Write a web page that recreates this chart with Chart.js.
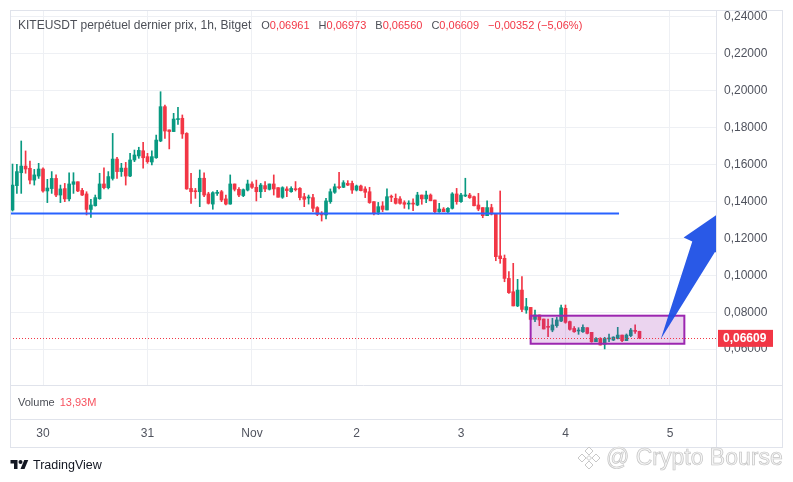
<!DOCTYPE html>
<html>
<head>
<meta charset="utf-8">
<script src="https://cdn.jsdelivr.net/npm/chart.js@4.4.1/dist/chart.umd.min.js"></script>
<style>
  html, body { margin: 0; padding: 0; background: #fff; }
  #wrap { position: relative; width: 793px; height: 482px; overflow: hidden; font-family: "Liberation Sans", Arial, sans-serif; }
  #c { position: absolute; left: 0; top: 0; }
  .ln { position: absolute; background: #e0e3eb; }
  #title { position: absolute; left: 18px; top: 17px; font-size: 12px; line-height: 16px; color: #4c4f57; white-space: nowrap; }
  #title .v { font-size: 11px; }
  #title .r { color: #f23645; }
  #title .sp { margin-left: 9px; }
  #title .first { margin-left: 10px; }
  #vol { position: absolute; left: 18px; top: 395px; font-size: 11px; line-height: 14px; color: #4c4f57; }
  #vol .r { color: #f7525f; margin-left: 5px; }
  #tv { position: absolute; left: 10px; top: 458px; height: 14px; display: flex; align-items: center; font-size: 12.5px; color: #131722; }
  #tv svg { margin-right: 4px; }
  #wm { position: absolute; left: 576px; top: 444px; display: flex; align-items: center; font-size: 23px; color: #f6f6f6; -webkit-text-stroke: 0.7px #c4c4c4; white-space: nowrap; }
  #wm svg { margin-right: 4px; }
</style>
</head>
<body>
<div id="wrap">
  <canvas id="c" width="793" height="482"></canvas>
  <div class="ln" style="left:10px;top:10px;width:773px;height:1px"></div>
  <div class="ln" style="left:10px;top:10px;width:1px;height:437px"></div>
  <div class="ln" style="left:782px;top:10px;width:1px;height:437px"></div>
  <div class="ln" style="left:10px;top:447px;width:773px;height:1px"></div>
  <div class="ln" style="left:716px;top:385px;width:67px;height:1px"></div>
  <div class="ln" style="left:10px;top:419px;width:773px;height:1px"></div>
  <div class="ln" style="left:716px;top:385px;width:1px;height:62px"></div>
  <div id="title"><span>KITEUSDT perpétuel dernier prix, 1h, Bitget</span><span class="v first">O</span><span class="v r">0,06961</span><span class="v sp">H</span><span class="v r">0,06973</span><span class="v sp">B</span><span class="v r">0,06560</span><span class="v sp">C</span><span class="v r">0,06609</span><span class="v r sp">−0,00352 (−5,06%)</span></div>
  <div id="vol">Volume<span class="r">13,93M</span></div>
  <div id="tv"><svg width="19" height="14" viewBox="0 0 36 28"><path d="M14 22H7V11H0V4h14v18z" fill="#131722"/><circle cx="20" cy="8" r="4" fill="#131722"/><path d="M28 22h-8l7.5-18h8L28 22z" fill="#131722"/></svg>TradingView</div>
  <div id="wm"><svg width="26" height="26" viewBox="0 0 26 26" fill="none" stroke="#c8c8c8" stroke-width="1"><path d="M13 2l4 4-4 4-4-4z"/><path d="M13 16l4 4-4 4-4-4z"/><path d="M6 9l4 4-4 4-4-4z"/><path d="M20 9l4 4-4 4-4-4z"/><path d="M13 10.5l2.5 2.5-2.5 2.5-2.5-2.5z"/></svg>@ Crypto Bourse</div>
</div>
<script>
// hourly candles, first one is 7 hours before Oct 30 00:00
const firstHour = -7;
const opens = [
  0.1354, 0.1486, 0.1556, 0.1592, 0.1580, 0.1516, 0.1538, 0.1576, 0.1457, 0.1470,
  0.1525, 0.1435, 0.1470, 0.1414, 0.1493, 0.1507, 0.1460, 0.1441, 0.1357, 0.1377,
  0.1415, 0.1495, 0.1475, 0.1525, 0.1630, 0.1562, 0.1581, 0.1538, 0.1625, 0.1647,
  0.1675, 0.1643, 0.1614, 0.1637, 0.1728, 0.1914, 0.1788, 0.1779, 0.1844, 0.1851,
  0.1769, 0.1471, 0.1457, 0.1453, 0.1526, 0.1441, 0.1386, 0.1444, 0.1453, 0.1414,
  0.1386, 0.1495, 0.1466, 0.1432, 0.1462, 0.1495, 0.1477, 0.1453, 0.1486, 0.1466,
  0.1495, 0.1475, 0.1423, 0.1468, 0.1453, 0.1468, 0.1471, 0.1426, 0.1419, 0.1421,
  0.1367, 0.1334, 0.1327, 0.1399, 0.1450, 0.1480, 0.1477, 0.1498, 0.1498, 0.1462,
  0.1484, 0.1468, 0.1453, 0.1399, 0.1341, 0.1376, 0.1354, 0.1426, 0.1417, 0.1414,
  0.1394, 0.1386, 0.1390, 0.1381, 0.1435, 0.1414, 0.1435, 0.1408, 0.1345, 0.1359,
  0.1345, 0.1363, 0.1441, 0.1399, 0.1430, 0.1435, 0.1426, 0.1381, 0.1367, 0.1323,
  0.1367, 0.1336, 0.1105, 0.1092, 0.0983, 0.0911, 0.0834, 0.0920, 0.0812, 0.0826,
  0.0761, 0.0785, 0.0763, 0.0722, 0.0703, 0.0727, 0.0752, 0.0821, 0.0749, 0.0712,
  0.0698, 0.0694, 0.0716, 0.0691, 0.0640, 0.0655, 0.0626, 0.0655, 0.0649, 0.0658,
  0.0676, 0.0646, 0.0673, 0.0700, 0.06961
];
const highs = [
  0.1603, 0.1601, 0.1728, 0.1674, 0.1619, 0.1574, 0.1607, 0.1583, 0.1520, 0.1562,
  0.1544, 0.1489, 0.1498, 0.1556, 0.1556, 0.1507, 0.1471, 0.1453, 0.1412, 0.1435,
  0.1553, 0.1583, 0.1562, 0.1769, 0.1639, 0.1607, 0.1612, 0.1661, 0.1679, 0.1694,
  0.1721, 0.1661, 0.1675, 0.1760, 0.1995, 0.1923, 0.1788, 0.1878, 0.1910, 0.1869,
  0.1773, 0.1553, 0.1471, 0.1571, 0.1556, 0.1450, 0.1453, 0.1460, 0.1460, 0.1435,
  0.1544, 0.1495, 0.1475, 0.1468, 0.1516, 0.1507, 0.1516, 0.1498, 0.1508, 0.1495,
  0.1544, 0.1475, 0.1480, 0.1480, 0.1480, 0.1508, 0.1475, 0.1444, 0.1435, 0.1439,
  0.1372, 0.1345, 0.1417, 0.1468, 0.1495, 0.1558, 0.1513, 0.1513, 0.1511, 0.1489,
  0.1489, 0.1480, 0.1477, 0.1399, 0.1395, 0.1399, 0.1468, 0.1435, 0.1441, 0.1426,
  0.1404, 0.1404, 0.1414, 0.1450, 0.1435, 0.1457, 0.1441, 0.1408, 0.1390, 0.1367,
  0.1367, 0.1448, 0.1471, 0.1444, 0.1526, 0.1444, 0.1430, 0.1444, 0.1367, 0.1403,
  0.1385, 0.1336, 0.1457, 0.1110, 0.1020, 0.1065, 0.0978, 0.0993, 0.0875, 0.0826,
  0.0812, 0.0785, 0.0763, 0.0763, 0.0767, 0.0772, 0.0839, 0.0839, 0.0752, 0.0722,
  0.0716, 0.0731, 0.0716, 0.0691, 0.0662, 0.0662, 0.0664, 0.0682, 0.0667, 0.0718,
  0.0676, 0.0682, 0.0712, 0.0731, 0.06973
];
const lows = [
  0.1348, 0.1444, 0.1444, 0.1553, 0.1495, 0.1489, 0.1525, 0.1450, 0.1394, 0.1444,
  0.1426, 0.1394, 0.1399, 0.1403, 0.1444, 0.1453, 0.1432, 0.1327, 0.1314, 0.1375,
  0.1412, 0.1468, 0.1468, 0.1516, 0.1525, 0.1536, 0.1489, 0.1535, 0.1616, 0.1634,
  0.1580, 0.1607, 0.1598, 0.1634, 0.1724, 0.1742, 0.1685, 0.1779, 0.1818, 0.1742,
  0.1466, 0.1390, 0.1417, 0.1372, 0.1426, 0.1386, 0.1358, 0.1433, 0.1399, 0.1381,
  0.1385, 0.1457, 0.1426, 0.1426, 0.1457, 0.1471, 0.1403, 0.1421, 0.1453, 0.1462,
  0.1435, 0.1423, 0.1417, 0.1426, 0.1450, 0.1457, 0.1408, 0.1372, 0.1386, 0.1345,
  0.1323, 0.1294, 0.1305, 0.1390, 0.1444, 0.1468, 0.1475, 0.1486, 0.1444, 0.1457,
  0.1457, 0.1421, 0.1390, 0.1327, 0.1330, 0.1345, 0.1354, 0.1399, 0.1386, 0.1386,
  0.1363, 0.1359, 0.1350, 0.1377, 0.1385, 0.1394, 0.1404, 0.1336, 0.1341, 0.1345,
  0.1336, 0.1359, 0.1385, 0.1395, 0.1426, 0.1417, 0.1376, 0.1350, 0.1312, 0.1323,
  0.1327, 0.1079, 0.1065, 0.0965, 0.0902, 0.0834, 0.0830, 0.0803, 0.0794, 0.0758,
  0.0749, 0.0727, 0.0709, 0.0667, 0.0694, 0.0718, 0.0749, 0.0740, 0.0703, 0.0691,
  0.0680, 0.0691, 0.0682, 0.0637, 0.0640, 0.0622, 0.0601, 0.0640, 0.0646, 0.0655,
  0.0640, 0.0646, 0.0667, 0.0685, 0.06560
];
const closes = [
  0.1489, 0.1562, 0.1592, 0.1576, 0.1516, 0.1544, 0.1576, 0.1457, 0.1473, 0.1525,
  0.1435, 0.1468, 0.1414, 0.1495, 0.1507, 0.1457, 0.1435, 0.1357, 0.1381, 0.1421,
  0.1495, 0.1475, 0.1535, 0.1630, 0.1562, 0.1581, 0.1538, 0.1625, 0.1652, 0.1677,
  0.1637, 0.1616, 0.1643, 0.1733, 0.1914, 0.1782, 0.1779, 0.1847, 0.1847, 0.1766,
  0.1468, 0.1453, 0.1453, 0.1526, 0.1435, 0.1390, 0.1448, 0.1450, 0.1408, 0.1386,
  0.1495, 0.1466, 0.1435, 0.1464, 0.1495, 0.1477, 0.1453, 0.1489, 0.1468, 0.1495,
  0.1468, 0.1423, 0.1475, 0.1459, 0.1471, 0.1464, 0.1421, 0.1412, 0.1423, 0.1363,
  0.1330, 0.1327, 0.1403, 0.1453, 0.1480, 0.1475, 0.1502, 0.1489, 0.1462, 0.1484,
  0.1459, 0.1450, 0.1394, 0.1339, 0.1372, 0.1357, 0.1426, 0.1423, 0.1390, 0.1390,
  0.1385, 0.1390, 0.1386, 0.1435, 0.1414, 0.1435, 0.1404, 0.1345, 0.1359, 0.1345,
  0.1363, 0.1441, 0.1399, 0.1435, 0.1435, 0.1421, 0.1377, 0.1359, 0.1323, 0.1367,
  0.1332, 0.1101, 0.1090, 0.0983, 0.0906, 0.0834, 0.0920, 0.0815, 0.0830, 0.0761,
  0.0785, 0.0758, 0.0709, 0.0718, 0.0731, 0.0758, 0.0824, 0.0745, 0.0707, 0.0694,
  0.0703, 0.0718, 0.0685, 0.0640, 0.0658, 0.0622, 0.0658, 0.0658, 0.0665, 0.0676,
  0.0646, 0.0676, 0.0703, 0.0696, 0.06609
];

// axes
const xTickHours = [0, 24, 48, 72, 96, 120, 144];
const xTickLabels = ['30', '31', 'Nov', '2', '3', '4', '5'];
const yTickValues = [0.06, 0.08, 0.10, 0.12, 0.14, 0.16, 0.18, 0.20, 0.22, 0.24];
const hourRange = [-7.58, 154.57];
const priceRange = [0.04054, 0.24379];

// drawings
const levelHours = [-7.6, 132.3];
const levelPrice = 0.1335;
const zoneHours = [112.0, 147.3];
const zonePrices = [0.0629, 0.0781];
const arrowHours = [141.9, 155.3];
const arrowPrices = [0.0655, 0.1337];
const lastPrice = 0.06609;

const UP = '#089981', DOWN = '#f23645';

const hours = opens.map((o, i) => firstHour + i);
const candleColor = opens.map((o, i) => closes[i] >= o ? UP : DOWN);

const fmt = v => v.toFixed(5).replace('.', ',');

const overlays = {
  id: 'overlays',
  afterDatasetsDraw(chart) {
    const { ctx, chartArea: a, scales: { x, y } } = chart;
    ctx.save();
    ctx.beginPath();
    ctx.rect(a.left, a.top, a.right - a.left, a.bottom - a.top);
    ctx.clip();

    // consolidation box
    const zx0 = x.getPixelForValue(zoneHours[0]), zx1 = x.getPixelForValue(zoneHours[1]);
    const zy0 = y.getPixelForValue(zonePrices[1]), zy1 = y.getPixelForValue(zonePrices[0]);
    ctx.fillStyle = 'rgba(156, 39, 176, 0.2)';
    ctx.fillRect(zx0, zy0, zx1 - zx0, zy1 - zy0);
    ctx.strokeStyle = '#9c27b0';
    ctx.lineWidth = 2;
    ctx.strokeRect(zx0, zy0, zx1 - zx0, zy1 - zy0);

    // last price dotted line
    const py = Math.round(y.getPixelForValue(lastPrice)) + 0.5;
    ctx.strokeStyle = DOWN;
    ctx.lineWidth = 1;
    ctx.setLineDash([1, 2]);
    ctx.beginPath();
    ctx.moveTo(a.left, py);
    ctx.lineTo(a.right, py);
    ctx.stroke();
    ctx.setLineDash([]);

    // big arrow
    const sx = x.getPixelForValue(arrowHours[0]), sy = y.getPixelForValue(arrowPrices[0]);
    const tx = x.getPixelForValue(arrowHours[1]), ty = y.getPixelForValue(arrowPrices[1]);
    const len = Math.hypot(tx - sx, ty - sy);
    const ux = (tx - sx) / len, uy = (ty - sy) / len;
    const nx = -uy, ny = ux;
    const headLen = 37, headHalf = 22, shaftHalf = 12.5;
    const bx = tx - ux * headLen, by = ty - uy * headLen;
    ctx.fillStyle = 'rgba(30, 80, 230, 0.95)';
    ctx.beginPath();
    ctx.moveTo(sx, sy);
    ctx.lineTo(bx + nx * shaftHalf, by + ny * shaftHalf);
    ctx.lineTo(bx + nx * headHalf, by + ny * headHalf);
    ctx.lineTo(tx, ty);
    ctx.lineTo(bx - nx * headHalf, by - ny * headHalf);
    ctx.lineTo(bx - nx * shaftHalf, by - ny * shaftHalf);
    ctx.closePath();
    ctx.fill();
    ctx.restore();
  },
  afterDraw(chart) {
    const { ctx, chartArea: a, scales: { y } } = chart;
    const py = y.getPixelForValue(lastPrice);
    ctx.save();
    ctx.fillStyle = DOWN;
    ctx.fillRect(a.right + 2, py - 8, 55, 17);
    ctx.fillStyle = '#fff';
    ctx.font = 'bold 12px "Liberation Sans", Arial, sans-serif';
    ctx.textBaseline = 'middle';
    ctx.fillText(fmt(lastPrice), a.right + 7, py + 1);
    ctx.restore();
  }
};

new Chart(document.getElementById('c'), {
  type: 'bar',
  data: {
    datasets: [
      {
        type: 'line',
        data: levelHours.map(h => ({ x: h, y: levelPrice })),
        borderColor: '#2962ff',
        borderWidth: 2,
        pointRadius: 0,
        order: -1
      },
      {
        data: hours.map((h, i) => ({ x: h, y: [opens[i], closes[i]] })),
        backgroundColor: candleColor,
        barThickness: 3,
        minBarLength: 1,
        grouped: false,
        order: 0
      },
      {
        data: hours.map((h, i) => ({ x: h, y: [lows[i], highs[i]] })),
        backgroundColor: candleColor,
        barThickness: 1,
        grouped: false,
        order: 1
      }
    ]
  },
  options: {
    responsive: false,
    animation: false,
    layout: { padding: { top: 10, left: 10, right: 10, bottom: 35 } },
    plugins: { legend: { display: false }, tooltip: { enabled: false } },
    scales: {
      x: {
        type: 'linear',
        min: hourRange[0],
        max: hourRange[1],
        offset: false,
        afterBuildTicks: s => { s.ticks = xTickHours.map(v => ({ value: v })); },
        afterFit: s => { s.height = 62; s.paddingLeft = 0; s.paddingRight = 0; },
        grid: { color: '#eef0f4', offset: false, drawTicks: false },
        border: { color: '#e0e3eb' },
        ticks: {
          autoSkip: false,
          maxRotation: 0,
          padding: 41,
          color: '#50535e',
          font: { size: 12, family: '"Liberation Sans", Arial, sans-serif' },
          callback: (v, i) => xTickLabels[i]
        }
      },
      y: {
        position: 'right',
        min: priceRange[0],
        max: priceRange[1],
        afterBuildTicks: s => { s.ticks = yTickValues.map(v => ({ value: v })); },
        afterFit: s => { s.width = 67; s.paddingTop = 0; s.paddingBottom = 0; },
        grid: { color: '#eef0f4', drawTicks: false },
        border: { color: '#e0e3eb' },
        ticks: {
          padding: 8,
          color: '#50535e',
          font: { size: 12, family: '"Liberation Sans", Arial, sans-serif' },
          callback: v => fmt(v)
        }
      }
    }
  },
  plugins: [overlays]
});
</script>
</body>
</html>
